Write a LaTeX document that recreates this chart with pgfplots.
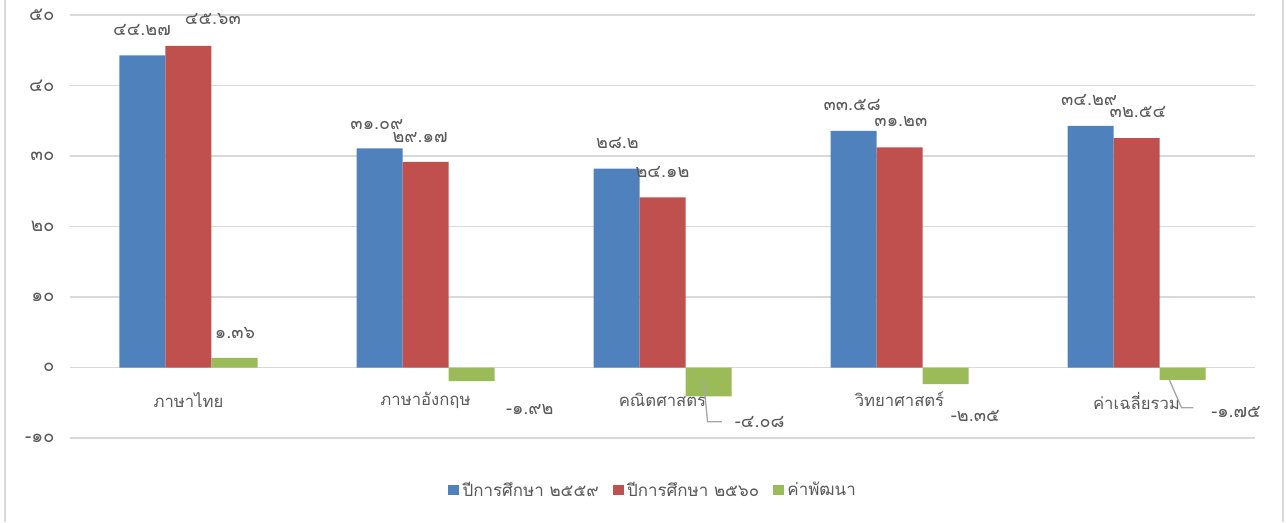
\documentclass[border=0pt]{standalone}
\usepackage{fontspec}
\setmainfont[Script=Thai]{Loma}
\usepackage{pgfplots}
\pgfplotsset{compat=1.18}

\definecolor{sblue}{HTML}{4F81BD}
\definecolor{sred}{HTML}{C0504D}
\definecolor{sgreen}{HTML}{9BBB59}
\definecolor{txt}{HTML}{595959}
\definecolor{gridc}{HTML}{D9D9D9}

\begin{document}
\begin{tikzpicture}
\begin{axis}[
    at={(0,0)}, anchor=south west,
    scale only axis,
    width=888.75pt, height=317.25pt,
    xmin=-0.5, xmax=4.5,
    ymin=-10, ymax=50,
    axis x line*=middle,
    axis y line*=left,
    y axis line style={draw=none},
    x axis line style={draw=gridc, line width=1.3pt},
    major tick length=0pt,
    ytick={-10,0,10,20,30,40,50},
    yticklabels={-๑๐,๐,๑๐,๒๐,๓๐,๔๐,๕๐},
    xtick={0,1,2,3,4},
    xticklabels={ภาษาไทย,ภาษาอังกฤษ,คณิตศาสตร์,วิทยาศาสตร์,ค่าเฉลี่ยรวม},
    ymajorgrids=true,
    grid style={draw=gridc, line width=1.2pt},
    yticklabel style={font=\fontsize{14}{16}\selectfont, text=txt, xshift=-8pt},
    xticklabel style={font=\fontsize{12.5}{15}\selectfont, text=txt, yshift=-15pt},
    ybar, bar width=34.5pt,
    legend style={at={(0.492,-0.123)}, anchor=center, draw=none,
        font=\fontsize{12.7}{14}\selectfont, text=txt,
        legend columns=3,
        /tikz/every odd column/.style={column sep=1pt},
        /tikz/every even column/.style={column sep=9pt},
        nodes={inner sep=1.5pt}},
    legend image code/.code={\fill[#1] (0pt,-4.1pt) rectangle (8.25pt,4.1pt);},
    clip=false,
]
\addplot[fill=sblue, draw=none, bar shift=-34.5pt] coordinates {
    (0,44.27) (1,31.09) (2,28.2) (3,33.58) (4,34.29)};
\addlegendentry{ปีการศึกษา ๒๕๕๙}
\addplot[fill=sred, draw=none, bar shift=0pt] coordinates {
    (0,45.63) (1,29.17) (2,24.12) (3,31.23) (4,32.54)};
\addlegendentry{ปีการศึกษา ๒๕๖๐}
\addplot[fill=sgreen, draw=none, bar shift=34.5pt] coordinates {
    (0,1.36) (1,-1.92) (2,-4.08) (3,-2.35) (4,-1.75)};
\addlegendentry{ค่าพัฒนา}

% data labels (positions as placed in the original)
\begin{scope}[every node/.style={font=\fontsize{13.5}{15}\selectfont, text=txt}]
\node at (axis cs:-0.196,47.9) {๔๔.๒๗};
\node at (axis cs:0.103,49.4) {๔๕.๖๓};
\node at (axis cs:0.196,4.96) {๑.๓๖};
\node at (axis cs:0.795,34.5) {๓๑.๐๙};
\node at (axis cs:0.977,32.6) {๒๙.๑๗};
\node at (axis cs:1.44,-5.96) {-๑.๙๒};
\node at (axis cs:1.81,31.9) {๒๘.๒};
\node at (axis cs:2.0,27.8) {๒๔.๑๒};
\node at (axis cs:2.41,-7.8) {-๔.๐๘};
\node at (axis cs:2.80,37.3) {๓๓.๕๘};
\node at (axis cs:3.006,34.9) {๓๑.๒๓};
\node at (axis cs:3.32,-6.95) {-๒.๓๕};
\node at (axis cs:3.80,38.0) {๓๔.๒๙};
\node at (axis cs:4.006,36.3) {๓๒.๕๔};
\node at (axis cs:4.42,-6.3) {-๑.๗๕};
\end{scope}
% leader lines
\draw[color=black!35, line width=1pt] (axis cs:2.173,-1.7) -- (axis cs:2.19,-7.7) -- (axis cs:2.25,-7.7);
\draw[color=black!35, line width=1pt] (axis cs:4.138,-1.7) -- (axis cs:4.19,-5.7) -- (axis cs:4.24,-5.7);
\end{axis}
\draw[gridc, line width=1.2pt] (-48.75pt,-63pt) -- (-48.75pt,328.5pt);
\draw[gridc, line width=1.2pt] (909.75pt,-63pt) -- (909.75pt,328.5pt);
\pgfresetboundingbox
\path (-52.5pt,-63pt) rectangle (912pt,328.5pt);
\end{tikzpicture}
\end{document}
